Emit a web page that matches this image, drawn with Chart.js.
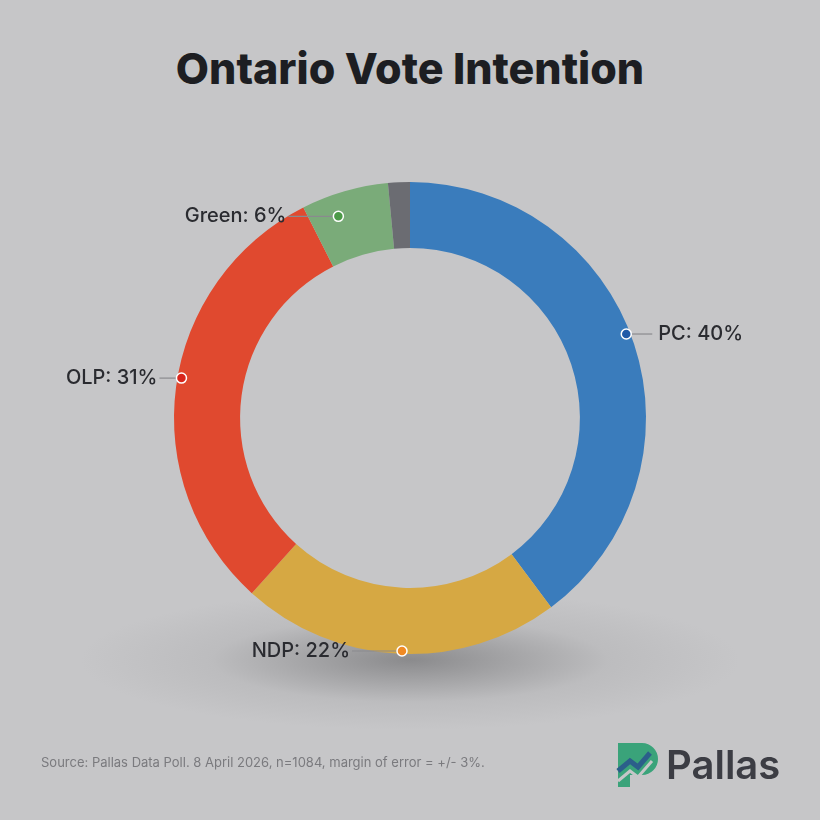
<!DOCTYPE html>
<html><head><meta charset="utf-8">
<script src="https://cdn.jsdelivr.net/npm/chart.js"></script>
<style>
html,body{margin:0;padding:0;}
body{width:820px;height:820px;position:relative;overflow:hidden;font-family:Inter,"Open Sans",sans-serif;
background:radial-gradient(ellipse 330px 70px at 410px 660px, rgba(90,90,92,0.55), rgba(150,150,152,0.2) 60%, rgba(200,200,202,0) 100%), #c6c6c8;}
#t{position:absolute;top:42px;left:0;width:820px;text-align:center;font-size:43px;font-weight:800;color:#1d1e22;}
#s{position:absolute;left:41px;top:754px;font-size:13px;color:#7a7a7e;}
#logo{position:absolute;left:616px;top:740px;display:flex;align-items:center;}
#logo span{font-size:40px;font-weight:600;color:#3c3d44;margin-left:4px;}
canvas{position:absolute;left:0;top:0;}
</style></head><body>
<div id="t">Ontario Vote Intention</div>
<canvas id="c" width="820" height="820"></canvas>
<div id="s">Source: Pallas Data Poll. 8 April 2026, n=1084, margin of error = +/- 3%.</div>
<div id="logo"><svg width="46" height="48" viewBox="0 0 46 48"><path d="M2 2 H26 A16 16 0 0 1 26 34 H14 V46 H2 Z" fill="#3aa37a"/><path d="M2 30 L14 20 L22 26 L34 12" stroke="#2b5f8a" stroke-width="5" fill="none"/><path d="M2 40 L14 30 L22 36 L36 20" stroke="#c6c6c8" stroke-width="3" fill="none"/></svg><span>Pallas</span></div>
<script>
const parties=["PC","NDP","OLP","Green","Other"];
const values=[40,22,31,6,1.5];
const labels=["PC: 40%","NDP: 22%","OLP: 31%","Green: 6%",""];
const colors=["#3a7cbc","#d6a843","#e0492f","#7aab79","#6b6c72"];
const dotColors=["#1f5aa8","#f08a24","#d9261c","#4c9a48",null];
const lineLen=[26,50,22,50,0];
const angleShift=[-0.05,0,0.04,-0.06,0];
const labelPlugin={id:'lbl',afterDatasetsDraw(ch){
 const ctx=ch.ctx;const meta=ch.getDatasetMeta(0);
 meta.data.forEach((a,i)=>{ if(!labels[i])return;
  const mid=(a.startAngle+a.endAngle)/2+angleShift[i];let r=a.outerRadius-(i===3?22:4);
  let x=a.x+Math.cos(mid)*r,y=a.y+Math.sin(mid)*r;
  if(i===1){x=a.x-8;y=a.y+a.outerRadius-3;}
  const right=Math.cos(mid)>0.1;
  ctx.save();ctx.strokeStyle="#8a8a8e";ctx.lineWidth=1.2;ctx.beginPath();
  let ex=right?x+lineLen[i]:x-lineLen[i]; ctx.moveTo(x,y);ctx.lineTo(ex,y);ctx.stroke();
  ctx.beginPath();ctx.arc(x,y,5,0,Math.PI*2);ctx.fillStyle=dotColors[i];ctx.fill();ctx.strokeStyle="#fff";ctx.lineWidth=1.5;ctx.stroke();
  ctx.font="500 20px Inter, sans-serif";ctx.fillStyle="#2a2b30";ctx.textBaseline="middle";
  ctx.textAlign=right?"left":"right";ctx.fillText(labels[i],right?ex+6:ex-2,y);
  ctx.restore();});
}};
new Chart(document.getElementById('c'),{type:'doughnut',
 data:{labels:parties,datasets:[{data:values,backgroundColor:colors,borderWidth:0}]},
 options:{responsive:false,animation:false,cutout:'72%',
  layout:{padding:{top:182,bottom:166,left:174,right:174}},
  plugins:{legend:{display:false},tooltip:{enabled:false}}},
 plugins:[labelPlugin]});
</script></body></html>
